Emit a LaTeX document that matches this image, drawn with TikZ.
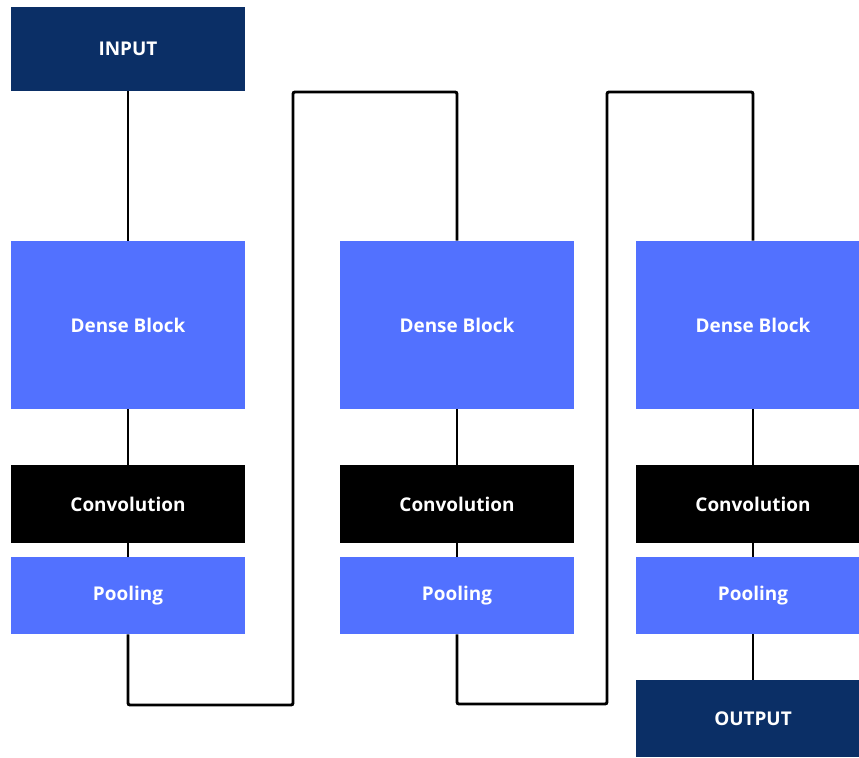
\documentclass[tikz,border=0pt]{standalone}
\usepackage{fontspec}
\setmainfont{Open Sans}
\definecolor{navyblock}{HTML}{0B2F66}
\definecolor{denseblue}{HTML}{5271FF}
\tikzset{
  box/.style={rectangle, inner sep=0pt, minimum width=175.5pt, text=white,
    font=\fontsize{14.2}{16}\selectfont\bfseries},
  iobox/.style={box, fill=navyblock, minimum height=58pt},
  densebox/.style={box, fill=denseblue, minimum height=126pt},
  convbox/.style={box, fill=black, minimum height=58.5pt},
  poolbox/.style={box, fill=denseblue, minimum height=57.75pt},
  link/.style={draw=black, line width=2.2pt, rounded corners=1.5pt}
}
\begin{document}
\begin{tikzpicture}[x=0.75pt,y=-0.75pt]
\useasboundingbox (0,0) rectangle (859,757);
\clip (0,0) rectangle (859,757);
\node[iobox, minimum height=63pt] (input) at (128,49) {INPUT};
\node[densebox] (dense1) at (128,325) {Dense Block};
\node[convbox] (conv1) at (128,504) {Convolution};
\node[poolbox] (pool1) at (128,595.5) {Pooling};
\node[densebox] (dense2) at (457,325) {Dense Block};
\node[convbox] (conv2) at (457,504) {Convolution};
\node[poolbox] (pool2) at (457,595.5) {Pooling};
\node[densebox] (dense3) at (753,325) {Dense Block};
\node[convbox] (conv3) at (753,504) {Convolution};
\node[poolbox] (pool3) at (753,595.5) {Pooling};
\node[iobox, minimum height=57.75pt] (output) at (753,718.5) {OUTPUT};
\coordinate (low1) at (293,705);
\coordinate (high1) at (293,92);
\coordinate (low2) at (607,704);
\coordinate (high2) at (607,92);
\draw[link] (input) -- (dense1);
\draw[link] (dense1) -- (conv1);
\draw[link] (conv1) -- (pool1);
\draw[link] (pool1.south) |- (low1) -- (high1) -| (dense2.north);
\draw[link] (dense2) -- (conv2);
\draw[link] (conv2) -- (pool2);
\draw[link] (pool2.south) |- (low2) -- (high2) -| (dense3.north);
\draw[link] (dense3) -- (conv3);
\draw[link] (conv3) -- (pool3);
\draw[link] (pool3) -- (output);
\end{tikzpicture}
\end{document}
